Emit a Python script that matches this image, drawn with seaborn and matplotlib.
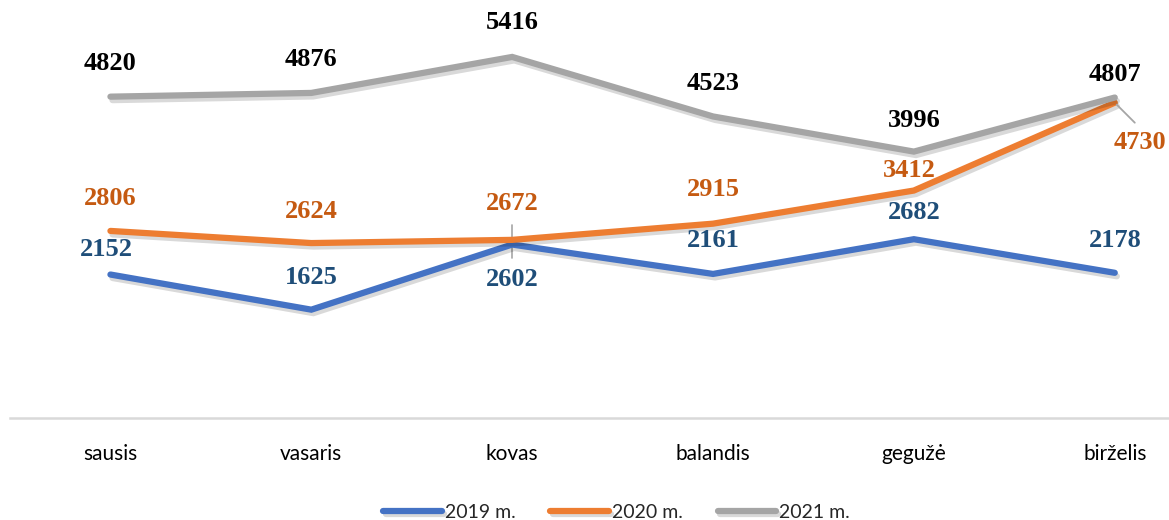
import pandas as pd
import seaborn as sns
import matplotlib
matplotlib.use("Agg")
import matplotlib.pyplot as plt
import matplotlib.patheffects as pe

months = ["sausis", "vasaris", "kovas", "balandis", "gegužė", "birželis"]
years = ["2019 m.", "2020 m.", "2021 m."]
vals_2019 = [2152, 1625, 2602, 2161, 2682, 2178]
vals_2020 = [2806, 2624, 2672, 2915, 3412, 4730]
vals_2021 = [4820, 4876, 5416, 4523, 3996, 4807]

line_colors = ["#4472C4", "#ED7D31", "#A5A5A5"]
label_colors = ["#1F4E79", "#C55A11", "#000000"]

# label offsets in pixels from the point (dx, dy), dy up
offsets = [
    [(-4, 25), (0, 32), (0, -35), (0, 33), (0, 27), (0, 32)],
    [(0, 32), (0, 32), (0, 36), (0, 34), (-5, 20), (25, -40)],
    [(0, 33), (0, 33), (0, 34), (0, 33), (0, 31), (0, 23)],
]

df = pd.DataFrame({
    "month": months * 3,
    "x": list(range(6)) * 3,
    "value": vals_2019 + vals_2020 + vals_2021,
    "year": [years[0]] * 6 + [years[1]] * 6 + [years[2]] * 6,
})

sns.set_style("white")
plt.rcParams["font.family"] = ["Lato", "DejaVu Sans"]

fig = plt.figure(figsize=(11.69, 5.2), dpi=100)
ax = fig.add_axes([10 / 1169, 1 - 418 / 520, 1 - 10 / 1169, 400 / 520])

sns.lineplot(data=df, x="x", y="value", hue="year", hue_order=years,
             palette=line_colors, linewidth=4.5, ax=ax, legend=True,
             solid_capstyle="round", solid_joinstyle="miter")
for line in ax.lines:
    line.set_path_effects([pe.SimpleLineShadow(offset=(1.5, -2.5), alpha=0.15, shadow_color="black"),
                           pe.Normal()])

series = [vals_2019, vals_2020, vals_2021]
for s, vals in enumerate(series):
    for i, v in enumerate(vals):
        dx, dy = offsets[s][i]
        ax.annotate(str(v), (i, v), xytext=(dx, dy), textcoords="offset pixels",
                    ha="center", va="center", fontsize=19, fontweight="bold",
                    family="Liberation Serif", color=label_colors[s])

# leader lines
ax.plot([2, 2], [vals_2020[2] + 230, vals_2019[2] - 200], color="#A5A5A5", lw=1.2, zorder=1)
ax.annotate("", xy=(5, vals_2020[5]), xytext=(22, -22), textcoords="offset pixels",
            arrowprops=dict(arrowstyle="-", color="#A5A5A5", lw=1.3))

ax.set_xlim(-0.5, 5.27)
ax.set_ylim(0, 6000)
ax.set_xticks(range(6))
ax.set_xticklabels(months)
ax.set_yticks([])
ax.set_xlabel("")
ax.set_ylabel("")
ax.tick_params(axis="x", length=0, pad=19, labelsize=15, colors="#000000")
for side in ["top", "left", "right"]:
    ax.spines[side].set_visible(False)
ax.spines["bottom"].set_color("#D9D9D9")
ax.spines["bottom"].set_linewidth(1.8)

handles, labels = ax.get_legend_handles_labels()
for h in handles:
    h.set_linewidth(4.5)
ax.legend(handles, labels, loc="center", bbox_to_anchor=(0.5 + 27 / 1159, -0.235),
          ncol=3, frameon=False, fontsize=14, handlelength=3.0,
          handletextpad=0.15, columnspacing=1.8)

fig.savefig("out.png", dpi=100)
